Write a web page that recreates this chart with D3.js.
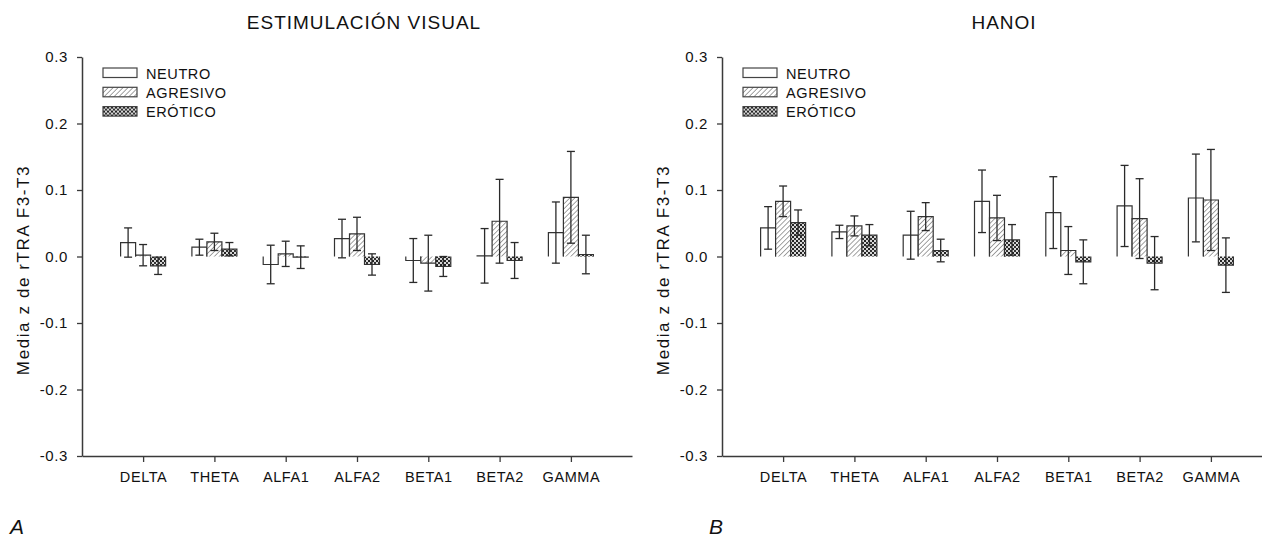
<!DOCTYPE html>
<html lang="es">
<head>
    <meta charset="UTF-8">
    <title>Media z de rTRA F3-T3</title>
    <script src="https://d3js.org/d3.v7.min.js"></script>
    <style>
        body { margin: 0; background: #fff; }
        text { font-family: "Liberation Sans", Arial, sans-serif; fill: #111; }
    </style>
</head>
<body>
<svg width="1262" height="540"></svg>
<script>
    // bands on the x axis
    var categories = ["DELTA", "THETA", "ALFA1", "ALFA2", "BETA1", "BETA2", "GAMMA"];
    var seriesNames = ["NEUTRO", "AGRESIVO", "ERÓTICO"];
    var yTicks = [0.3, 0.2, 0.1, 0.0, -0.1, -0.2, -0.3];

    // A: estimulacion visual (mean and error bar half length)
    var evNeutro = [0.021, 0.014, -0.012, 0.027, -0.006, 0.001, 0.036];
    var evNeutroErr = [0.022, 0.012, 0.029, 0.029, 0.033, 0.041, 0.046];
    var evAgresivo = [0.002, 0.022, 0.004, 0.034, -0.010, 0.053, 0.089];
    var evAgresivoErr = [0.016, 0.013, 0.019, 0.025, 0.042, 0.063, 0.069];
    var evErotico = [-0.014, 0.011, -0.001, -0.012, -0.015, -0.006, 0.003];
    var evEroticoErr = [0.013, 0.010, 0.017, 0.016, 0.015, 0.027, 0.029];

    // B: hanoi
    var hnNeutro = [0.043, 0.037, 0.032, 0.083, 0.066, 0.076, 0.088];
    var hnNeutroErr = [0.032, 0.010, 0.036, 0.047, 0.054, 0.061, 0.066];
    var hnAgresivo = [0.083, 0.046, 0.060, 0.058, 0.009, 0.057, 0.085];
    var hnAgresivoErr = [0.023, 0.015, 0.021, 0.034, 0.036, 0.060, 0.076];
    var hnErotico = [0.051, 0.032, 0.009, 0.025, -0.008, -0.010, -0.013];
    var hnEroticoErr = [0.019, 0.016, 0.017, 0.023, 0.033, 0.040, 0.041];

    var panels = [
        {title: "ESTIMULACIÓN VISUAL", letter: "A", left: 82, letterX: 10,
         means: [evNeutro, evAgresivo, evErotico], errs: [evNeutroErr, evAgresivoErr, evEroticoErr]},
        {title: "HANOI", letter: "B", left: 722, letterX: 709,
         means: [hnNeutro, hnAgresivo, hnErotico], errs: [hnNeutroErr, hnAgresivoErr, hnEroticoErr]}
    ];

    var svg = d3.select("svg");
    var plotW = 550, barW = 15, capW = 8;
    var axisColor = "#3a3a3a";

    // fill patterns
    var defs = svg.append("defs");
    var hatch = defs.append("pattern")
        .attr("id", "hatch")
        .attr("patternUnits", "userSpaceOnUse")
        .attr("width", 3.5).attr("height", 3.5)
        .attr("patternTransform", "rotate(45)");
    hatch.append("rect").attr("width", 3.5).attr("height", 3.5).attr("fill", "#fff");
    hatch.append("line")
        .attr("x1", 0).attr("y1", 0).attr("x2", 0).attr("y2", 3.5)
        .attr("stroke", "#555").attr("stroke-width", 1.1);

    var checks = defs.append("pattern")
        .attr("id", "checks")
        .attr("patternUnits", "userSpaceOnUse")
        .attr("width", 4).attr("height", 4);
    checks.append("rect").attr("width", 4).attr("height", 4).attr("fill", "#d8d8d8");
    checks.append("rect").attr("width", 2).attr("height", 2).attr("fill", "#222");
    checks.append("rect").attr("x", 2).attr("y", 2).attr("width", 2).attr("height", 2).attr("fill", "#333");

    var fills = ["#fff", "url(#hatch)", "url(#checks)"];

    var y = d3.scaleLinear().domain([-0.3, 0.3]).range([456, 57]);

    panels.forEach(function (p) {
        var x = d3.scalePoint()
            .domain(categories)
            .range([p.left, p.left + plotW])
            .padding(0.857);
        var xs = d3.scaleBand()
            .domain(seriesNames)
            .range([-1.5 * barW, 1.5 * barW]);

        var g = svg.append("g");

        // title
        g.append("text")
            .attr("x", p.left + 282)
            .attr("y", 29)
            .attr("text-anchor", "middle")
            .attr("font-size", 19)
            .attr("letter-spacing", "1px")
            .text(p.title);

        // y axis
        var yAxis = g.append("g")
            .attr("transform", "translate(" + p.left + ",0)")
            .call(d3.axisLeft(y)
                .tickValues(yTicks)
                .tickSize(5)
                .tickSizeOuter(0)
                .tickPadding(9)
                .tickFormat(function (d) { return d3.format(".1f")(d).replace("\u2212", "-"); }));
        yAxis.selectAll("text")
            .attr("font-size", 15)
            .attr("letter-spacing", "0.6px")
            .attr("fill", "#222");

        // x axis
        var xAxis = g.append("g")
            .attr("transform", "translate(0," + y(-0.3) + ")")
            .call(d3.axisBottom(x).tickSize(6).tickSizeOuter(0).tickPadding(10));
        xAxis.selectAll("text")
            .attr("font-size", 14.5)
            .attr("letter-spacing", "0.6px")
            .attr("fill", "#222");

        [yAxis, xAxis].forEach(function (a) {
            a.select(".domain").attr("stroke", axisColor).attr("stroke-width", 1.5);
            a.selectAll(".tick line").attr("stroke", axisColor).attr("stroke-width", 1.3);
        });

        // y axis title
        g.append("text")
            .attr("transform", "translate(" + (p.left - 59) + ",270) rotate(-90)")
            .attr("text-anchor", "middle")
            .attr("dy", "0.35em")
            .attr("font-size", 17)
            .attr("letter-spacing", "1.6px")
            .text("Media z de rTRA F3-T3");

        // bars
        seriesNames.forEach(function (s, si) {
            var rows = categories.map(function (c, ci) {
                return {cat: c, mean: p.means[si][ci], err: p.errs[si][ci]};
            });
            var bx = function (d) { return x(d.cat) + xs(s); };

            g.append("g").selectAll("rect")
                .data(rows)
                .enter().append("rect")
                .attr("x", bx)
                .attr("y", function (d) { return y(Math.max(0, d.mean)); })
                .attr("width", barW)
                .attr("height", function (d) { return Math.abs(y(d.mean) - y(0)); })
                .attr("fill", fills[si]);

            // outline on three sides, not along the zero line
            g.append("g").selectAll("path")
                .data(rows)
                .enter().append("path")
                .attr("d", function (d) {
                    var x0 = bx(d), x1 = x0 + barW;
                    return "M" + x0 + "," + y(0) + "V" + y(d.mean) + "H" + x1 + "V" + y(0);
                })
                .attr("fill", "none")
                .attr("stroke", "#333")
                .attr("stroke-width", 1.2);

            // error bars
            var eb = g.append("g").selectAll("g")
                .data(rows)
                .enter().append("g")
                .attr("stroke", "#2a2a2a")
                .attr("stroke-width", 1.3);
            eb.append("line")
                .attr("x1", function (d) { return bx(d) + barW / 2; })
                .attr("x2", function (d) { return bx(d) + barW / 2; })
                .attr("y1", function (d) { return y(d.mean + d.err); })
                .attr("y2", function (d) { return y(d.mean - d.err); });
            [1, -1].forEach(function (sign) {
                eb.append("line")
                    .attr("x1", function (d) { return bx(d) + barW / 2 - capW / 2; })
                    .attr("x2", function (d) { return bx(d) + barW / 2 + capW / 2; })
                    .attr("y1", function (d) { return y(d.mean + sign * d.err); })
                    .attr("y2", function (d) { return y(d.mean + sign * d.err); });
            });
        });

        // legend
        var legend = g.append("g")
            .selectAll("g")
            .data(seriesNames)
            .enter().append("g")
            .attr("transform", function (d, i) {
                return "translate(" + (p.left + 21) + "," + (68 + i * 19.3) + ")";
            });
        legend.append("rect")
            .attr("width", 34)
            .attr("height", 9.5)
            .attr("fill", function (d, i) { return fills[i]; })
            .attr("stroke", "#444")
            .attr("stroke-width", 1.2);
        legend.append("text")
            .attr("x", 43)
            .attr("y", 10.5)
            .attr("font-size", 14.5)
            .attr("letter-spacing", "0.6px")
            .text(function (d) { return d; });

        // panel letter
        g.append("text")
            .attr("x", p.letterX)
            .attr("y", 534)
            .attr("font-size", 21)
            .attr("font-style", "italic")
            .text(p.letter);
    });
</script>
</body>
</html>
